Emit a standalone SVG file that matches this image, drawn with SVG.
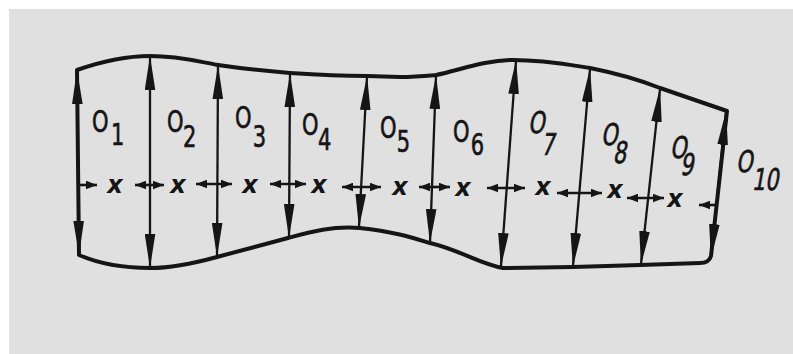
<svg xmlns="http://www.w3.org/2000/svg" width="793" height="354" viewBox="0 0 793 354">
<style>
.outline{fill:none;stroke:#151515;stroke-width:4;stroke-linejoin:round;stroke-linecap:round}
.v{stroke:#151515;stroke-width:2.3;fill:none;marker-start:url(#big);marker-end:url(#big)}
.h{stroke:#151515;stroke-width:2.6;fill:none;marker-start:url(#small);marker-end:url(#small)}
.h1{stroke:#151515;stroke-width:2.6;fill:none;marker-end:url(#small)}
.lbl{font-family:"DejaVu Sans","Liberation Sans",sans-serif;font-size:30px;fill:#151515;stroke:#151515;stroke-width:0.7}
.x{font-family:"DejaVu Sans","Liberation Sans",sans-serif;font-size:24px;font-style:italic;font-weight:bold;fill:#151515}
</style>
<defs>
<marker id="big" viewBox="0 -5.5 34 11" markerWidth="34" markerHeight="11" refX="33" refY="0" orient="auto-start-reverse" markerUnits="userSpaceOnUse">
<path d="M0,-5.3 L34,0 L0,5.3 Z" fill="#151515"/>
</marker>
<marker id="small" viewBox="0 -4.5 11 9" markerWidth="11" markerHeight="9" refX="11" refY="0" orient="auto-start-reverse" markerUnits="userSpaceOnUse">
<path d="M0,-4.3 L11,0 L0,4.3 Z" fill="#151515"/>
</marker>
</defs>
<rect x="0" y="0" width="793" height="354" fill="#ffffff"/>
<rect x="9" y="9" width="784" height="345" fill="#e0e0e0"/>

<g id="body">
<path class="outline" d="M77,70 C100,62 125,56 150,56 C180,56 200,62 218,65 C245,69 265,71 290,73 C320,75 345,76 367,76 L400,77 C415,77 425,76 436,75 C460,70 485,60 513,60 C545,60 570,65 590,68 C615,73 640,80 660,88 L727,111 L711,256 Q709,263 700,263 L640,265 L573,267 L503,268 C480,264 460,250 430,243 C410,237 395,232 360,228 C330,226 310,232 288,238 L217,257 C195,263 170,268 150,268 C120,268 95,262 79,255 Z"/>
</g>

<g id="connectors">
<line class="v" x1="77" y1="71" x2="79" y2="254"/>
<line class="v" x1="150" y1="57" x2="150" y2="267"/>
<line class="v" x1="218" y1="66" x2="217" y2="256"/>
<line class="v" x1="290" y1="74" x2="289" y2="237"/>
<line class="v" x1="367" y1="77" x2="359" y2="227"/>
<line class="v" x1="436" y1="76" x2="430" y2="242"/>
<line class="v" x1="516" y1="61" x2="501" y2="266"/>
<line class="v" x1="590" y1="69" x2="573" y2="266"/>
<line class="v" x1="660" y1="89" x2="641" y2="264"/>
<line class="v" x1="726" y1="112" x2="711" y2="257"/>

<line class="h1" x1="80" y1="185" x2="97" y2="185"/>
<line class="h" x1="135" y1="185" x2="164" y2="185"/>
<line class="h" x1="196" y1="184" x2="232" y2="184"/>
<line class="h" x1="270" y1="184" x2="306" y2="184"/>
<line class="h" x1="342" y1="187" x2="381" y2="187"/>
<line class="h" x1="419" y1="187" x2="450" y2="187"/>
<line class="h" x1="487" y1="188" x2="525" y2="188"/>
<line class="h" x1="557" y1="193" x2="602" y2="193"/>
<line class="h" x1="627" y1="198" x2="664" y2="198"/>
<line class="h1" x1="716" y1="205" x2="699" y2="205"/>
</g>

<g id="x-marks">
<text class="x" x="115" y="193" text-anchor="middle">x</text>
<text class="x" x="178" y="193" text-anchor="middle">x</text>
<text class="x" x="250" y="193" text-anchor="middle">x</text>
<text class="x" x="319" y="193" text-anchor="middle">x</text>
<text class="x" x="400" y="195" text-anchor="middle">x</text>
<text class="x" x="463" y="196" text-anchor="middle">x</text>
<text class="x" x="543" y="195" text-anchor="middle">x</text>
<text class="x" x="615" y="198" text-anchor="middle">x</text>
<text class="x" x="675" y="207" text-anchor="middle">x</text>
</g>

<g id="O1" transform="translate(92,132) scale(0.7,1)"><text class="lbl"><tspan x="0" y="0">O</tspan><tspan x="27" y="13">1</tspan></text></g>
<g id="O2" transform="translate(167,132) scale(0.7,1)"><text class="lbl"><tspan x="0" y="0">O</tspan><tspan x="23" y="15">2</tspan></text></g>
<g id="O3" transform="translate(235,128) scale(0.7,1)"><text class="lbl"><tspan x="0" y="0">O</tspan><tspan x="25.5" y="19">3</tspan></text></g>
<g id="O4" transform="translate(302,135) scale(0.7,1)"><text class="lbl"><tspan x="0" y="0">O</tspan><tspan x="23" y="15">4</tspan></text></g>
<g id="O5" transform="translate(380,138) scale(0.7,1)"><text class="lbl"><tspan x="0" y="0">O</tspan><tspan x="24" y="14">5</tspan></text></g>
<g id="O6" transform="translate(453,142) scale(0.7,1)"><text class="lbl"><tspan x="0" y="0">O</tspan><tspan x="25.5" y="13">6</tspan></text></g>
<g id="O7" transform="translate(528,133) skewX(-10) scale(0.7,1)"><text class="lbl"><tspan x="0" y="0">O</tspan><tspan x="24" y="22">7</tspan></text></g>
<g id="O8" transform="translate(601,145) skewX(-10) scale(0.7,1)"><text class="lbl"><tspan x="0" y="0">O</tspan><tspan x="21.5" y="18">8</tspan></text></g>
<g id="O9" transform="translate(670,158) skewX(-10) scale(0.7,1)"><text class="lbl"><tspan x="0" y="0">O</tspan><tspan x="18.5" y="17">9</tspan></text></g>
<g id="O10" transform="translate(736,172) skewX(-10) scale(0.7,1)"><text class="lbl"><tspan x="0" y="0">O</tspan><tspan x="27" y="18">10</tspan></text></g>
</svg>
